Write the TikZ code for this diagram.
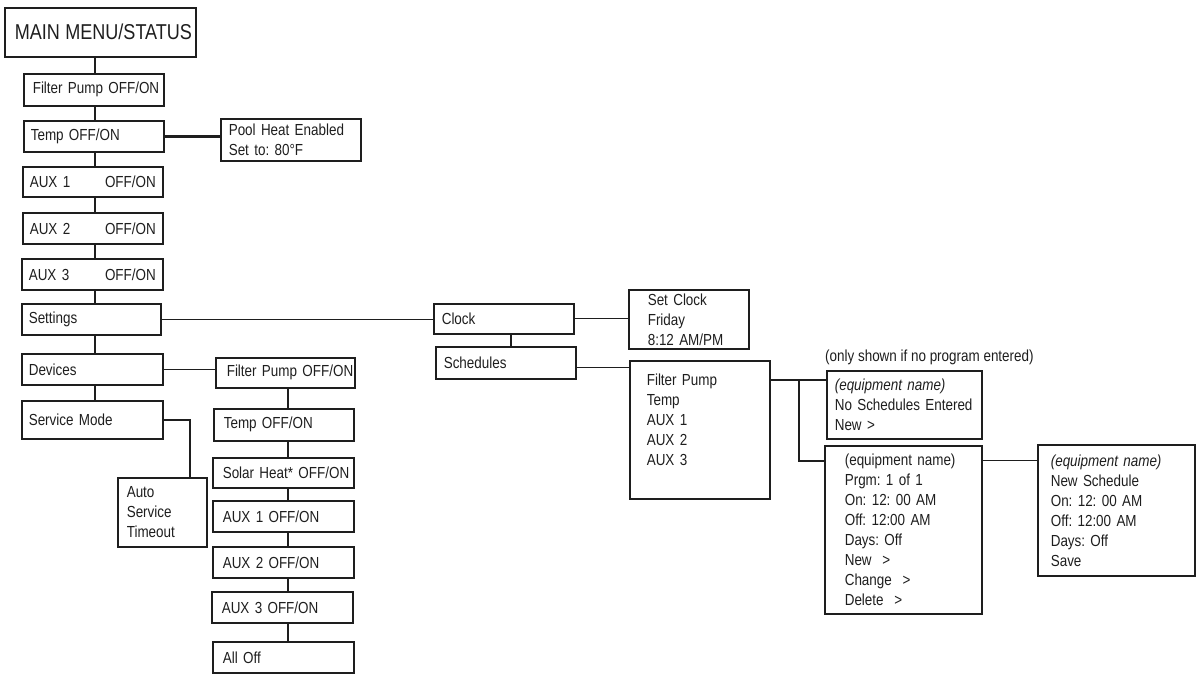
\documentclass[tikz,border=0pt]{standalone}
\usepackage{fontspec}
\setmainfont{Liberation Sans}[FakeStretch=0.84]
\frenchspacing
\definecolor{ink}{HTML}{1E1E1E}
\tikzset{
  box/.style={draw=ink, line width=1.6pt, rectangle, align=left, text=ink,
    inner ysep=2pt, font=\fontsize{16}{20}\selectfont\frenchspacing},
  conn/.style={draw=ink, line width=1.4pt},
  thickconn/.style={draw=ink, line width=2.8pt},
  thinconn/.style={draw=ink, line width=0.9pt},
  note/.style={text=ink, font=\fontsize{16}{20}\selectfont, inner sep=0pt}
}
% name, x1, y1, x2, y2, inset, text
\newcommand\mybox[7]{%
  \pgfmathsetmacro\mytw{#4-#2-2*#6}%
  \node[box, inner xsep=#6pt, text width=\mytw pt, minimum height={#5-#3},
        anchor=north west] (#1) at (#2,-#3) {#7};}
\begin{document}
\begin{tikzpicture}[x=1pt,y=1pt]
\useasboundingbox (0,0) rectangle (1199,-679);
% main column
\mybox{main}{4}{7}{195}{56}{10}{\fontsize{21.5}{24}\selectfont\mbox{MAIN MENU/STATUS}}
\mybox{fp}{23}{73}{163}{105}{9}{\mbox{Filter Pump OFF/ON}}
\mybox{temp}{23}{120}{163}{151}{7}{\mbox{Temp OFF/ON}}
\mybox{pool}{220}{118}{360}{160}{8}{Pool Heat Enabled\\Set to: 80°F}
\mybox{aux1}{22}{166}{162}{196}{7}{AUX 1\hfill OFF/ON}
\mybox{aux2}{22}{212}{162}{243}{7}{AUX 2\hfill OFF/ON}
\mybox{aux3}{21}{258}{162}{289}{7}{AUX 3\hfill OFF/ON}
\mybox{settings}{21}{303}{160}{334}{7}{Settings}
\mybox{devices}{21}{353}{162}{384}{7}{Devices}
\mybox{svc}{21}{400}{162}{438}{7}{Service Mode}
\mybox{auto}{117}{477}{206}{546}{9}{Auto\\Service\\Timeout}
% devices column
\mybox{fp2}{215}{357}{354}{387}{11}{\mbox{Filter Pump OFF/ON}}
\mybox{temp2}{213}{408}{353}{440}{10}{\mbox{Temp OFF/ON}}
\mybox{solar}{212}{457}{353}{487}{10}{\mbox{Solar Heat* OFF/ON}}
\mybox{daux1}{212}{500}{353}{531}{10}{\mbox{AUX 1 OFF/ON}}
\mybox{daux2}{212}{546}{353}{577}{10}{\mbox{AUX 2 OFF/ON}}
\mybox{daux3}{211}{591}{352}{622}{10}{\mbox{AUX 3 OFF/ON}}
\mybox{alloff}{212}{641}{353}{672}{10}{All Off}
% settings branch
\mybox{clock}{433}{303}{573}{333}{8}{Clock}
\mybox{sched}{435}{346}{575}{378}{8}{Schedules}
\mybox{setclk}{628}{289}{748}{348}{19}{Set Clock\\Friday\\8:12 AM/PM}
\mybox{list}{629}{360}{769}{498}{17}{Filter Pump\\Temp\\AUX 1\\AUX 2\\AUX 3\\\mbox{}}
\mybox{nosch}{826}{370}{981}{438}{8}{\textit{(equipment name)}\\\mbox{No Schedules Entered}\\New >}
\mybox{prog}{824}{445}{981}{613}{20}{(equipment name)\\Prgm: 1 of 1\\On: 12: 00 AM\\Off: 12:00 AM\\Days: Off\\New \ >\\Change \ >\\Delete \ >}
\mybox{newsch}{1037}{444}{1194}{575}{13}{\textit{(equipment name)}\\New Schedule\\On: 12: 00 AM\\Off: 12:00 AM\\Days: Off\\Save}
\node[note, anchor=west] (notetxt) at (825,-357) {(only shown if no program entered)};
% helper coordinates
\coordinate (vx) at (95,0);
\coordinate (dx) at (288,0);
\coordinate (sx) at (190,0);
\coordinate (cx) at (511,0);
\coordinate (ly) at (0,-367);
\coordinate (j1) at (799,-380);
\coordinate (j2) at (799,-461);
\coordinate (py) at (0,-460);
% main column connectors
\draw[thickconn] (main.south -| vx) -- (fp.north -| vx);
\draw[thickconn] (fp.south -| vx) -- (temp.north -| vx);
\draw[thickconn] (temp.south -| vx) -- (aux1.north -| vx);
\draw[thickconn] (aux1.south -| vx) -- (aux2.north -| vx);
\draw[thickconn] (aux2.south -| vx) -- (aux3.north -| vx);
\draw[thickconn] (aux3.south -| vx) -- (settings.north -| vx);
\draw[thickconn] (settings.south -| vx) -- (devices.north -| vx);
\draw[thickconn] (devices.south -| vx) -- (svc.north -| vx);
\draw[thickconn] (temp.east) -- (temp.east -| pool.west);
\draw[thinconn] (settings.east) -- (settings.east -| clock.west);
\draw[conn] (devices.east) -- (devices.east -| fp2.west);
\draw[conn] (svc.east) -| (auto.north -| sx);
% devices column connectors
\draw[conn] (fp2.south -| dx) -- (temp2.north -| dx);
\draw[conn] (temp2.south -| dx) -- (solar.north -| dx);
\draw[conn] (solar.south -| dx) -- (daux1.north -| dx);
\draw[conn] (daux1.south -| dx) -- (daux2.north -| dx);
\draw[conn] (daux2.south -| dx) -- (daux3.north -| dx);
\draw[conn] (daux3.south -| dx) -- (alloff.north -| dx);
% settings branch connectors
\draw[conn] (clock.south -| cx) -- (sched.north -| cx);
\draw[thinconn] (clock.east) -- (clock.east -| setclk.west);
\draw[thinconn] (sched.east |- ly) -- (list.west |- ly);
\draw[thickconn] (list.east |- j1) -- (nosch.west |- j1);
\draw[thickconn] (j1) -- (j2) -- (prog.west |- j2);
\draw[thinconn] (prog.east |- py) -- (newsch.west |- py);
\end{tikzpicture}
\end{document}
